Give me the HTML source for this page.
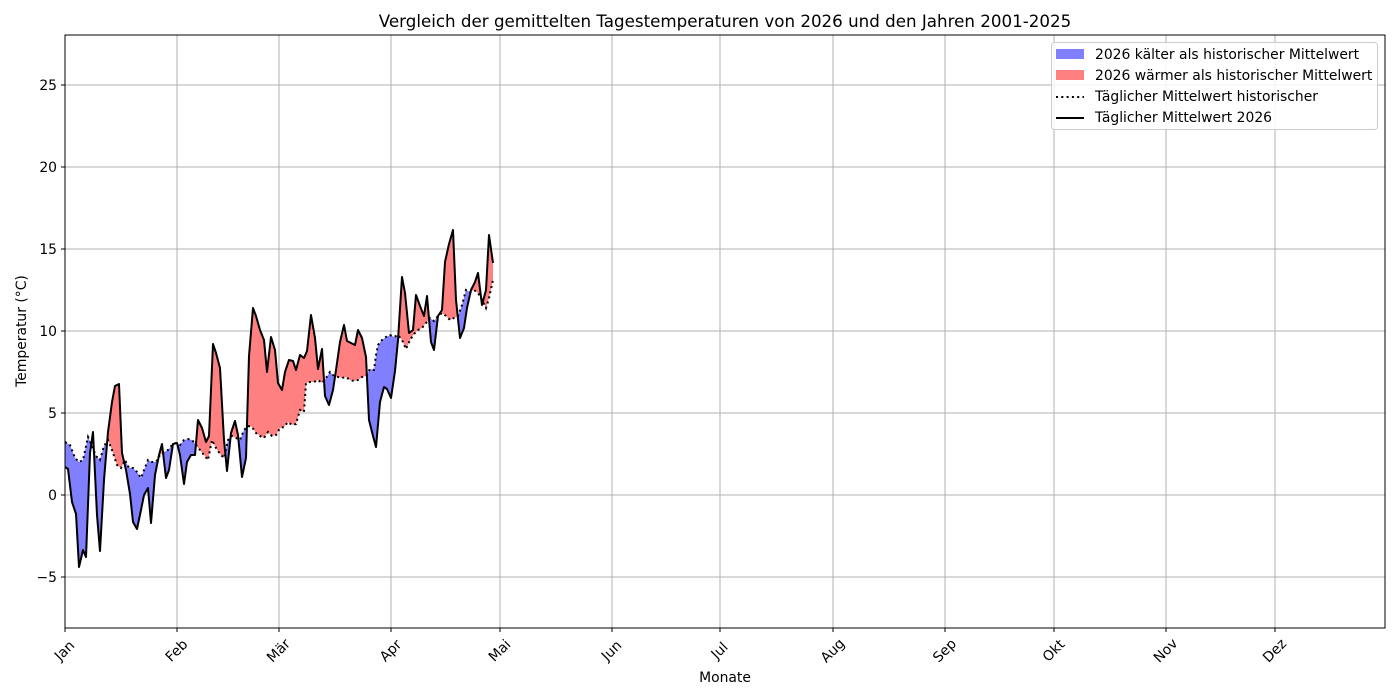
<!DOCTYPE html>
<html><head><meta charset="utf-8"><style>
html,body{margin:0;padding:0;background:#fff;}
svg{display:block;font-family:"DejaVu Sans","Liberation Sans",sans-serif;}
</style></head><body>
<svg width="1400" height="700" viewBox="0 0 1400 700" xmlns="http://www.w3.org/2000/svg">
<defs>
<clipPath id="below26"><polygon points="65,467 68,469 72,502 76,514 79,567 83,550 86,557 90,453 93,432 97,515 100,551 104,480 108,432 112,402 115,386 119,384 122,453 126,470 130,494 133,522 137,529 141,510 144,495 148,488 151,523 155,475 159,455 162,444 166,478 169,470 173,444 177,443 180,455 184,484 187,462 191,455 195,455 198,420 202,428 206,442 209,436 213,344 216,353 220,368 224,440 227,471 231,433 235,421 238,435 242,477 246,458 249,356 253,308 256,316 260,330 264,340 267,372 271,337 275,350 278,383 282,390 285,372 289,360 293,361 296,370 300,355 304,358 307,351 311,315 315,338 318,369 322,349 325,396 329,405 333,390 336,370 340,342 344,325 347,341 351,343 355,345 358,330 362,338 366,357 369,420 373,436 376,447 380,402 384,387 387,389 391,398 395,371 398,340 402,277 405,293 409,333 413,330 416,295 420,306 424,316 427,296 431,342 434,350 438,316 442,310 445,262 449,244 453,230 456,300 460,338 464,328 467,308 471,290 475,282 478,273 482,305 486,290 489,235 493,263 493,700 65,700"/></clipPath>
<clipPath id="above26"><polygon points="65,467 68,469 72,502 76,514 79,567 83,550 86,557 90,453 93,432 97,515 100,551 104,480 108,432 112,402 115,386 119,384 122,453 126,470 130,494 133,522 137,529 141,510 144,495 148,488 151,523 155,475 159,455 162,444 166,478 169,470 173,444 177,443 180,455 184,484 187,462 191,455 195,455 198,420 202,428 206,442 209,436 213,344 216,353 220,368 224,440 227,471 231,433 235,421 238,435 242,477 246,458 249,356 253,308 256,316 260,330 264,340 267,372 271,337 275,350 278,383 282,390 285,372 289,360 293,361 296,370 300,355 304,358 307,351 311,315 315,338 318,369 322,349 325,396 329,405 333,390 336,370 340,342 344,325 347,341 351,343 355,345 358,330 362,338 366,357 369,420 373,436 376,447 380,402 384,387 387,389 391,398 395,371 398,340 402,277 405,293 409,333 413,330 416,295 420,306 424,316 427,296 431,342 434,350 438,316 442,310 445,262 449,244 453,230 456,300 460,338 464,328 467,308 471,290 475,282 478,273 482,305 486,290 489,235 493,263 493,0 65,0"/></clipPath>
</defs>
<text x="725" y="27" font-size="16.7" text-anchor="middle">Vergleich der gemittelten Tagestemperaturen von 2026 und den Jahren 2001-2025</text>
<g stroke="#b0b0b0" stroke-width="1">
<line x1="65" y1="577" x2="1385" y2="577"/><line x1="65" y1="495" x2="1385" y2="495"/><line x1="65" y1="413" x2="1385" y2="413"/><line x1="65" y1="331" x2="1385" y2="331"/><line x1="65" y1="249" x2="1385" y2="249"/><line x1="65" y1="167" x2="1385" y2="167"/><line x1="65" y1="85" x2="1385" y2="85"/>
<line x1="177" y1="35" x2="177" y2="628"/><line x1="279" y1="35" x2="279" y2="628"/><line x1="391" y1="35" x2="391" y2="628"/><line x1="500" y1="35" x2="500" y2="628"/><line x1="612" y1="35" x2="612" y2="628"/><line x1="720" y1="35" x2="720" y2="628"/><line x1="833" y1="35" x2="833" y2="628"/><line x1="945" y1="35" x2="945" y2="628"/><line x1="1054" y1="35" x2="1054" y2="628"/><line x1="1166" y1="35" x2="1166" y2="628"/><line x1="1275" y1="35" x2="1275" y2="628"/>
</g>
<g id="fills">
<polygon clip-path="url(#below26)" fill="#ff8080" points="65,442 70,445 75,458 79,462 83,460 88,437 92,446 96,456 100,460 104,446 108,440 112,450 117,465 121,468 125,460 129,468 133,468 137,472 141,478 144,470 148,460 152,462 156,462 160,455 164,452 168,450 172,445 176,443 180,445 184,440 188,439 192,440 196,445 200,450 204,455 208,460 212,440 216,448 220,454 224,458 228,440 232,436 236,438 240,440 244,430 248,426 252,427 256,433 260,436 264,438 268,432 272,436 276,435 280,428 284,427 288,422 292,425 296,424 300,410 304,412 306,383 310,382 314,382 318,380 322,383 326,378 330,372 334,376 338,377 342,378 346,377 350,380 354,381 358,380 362,377 366,376 370,369 374,370 376,355 378,345 382,340 386,337 390,335 394,337 398,335 402,340 406,349 410,340 414,334 418,330 422,328 426,323 430,318 434,321 438,316 442,313 446,316 450,320 454,318 458,316 462,305 466,290 470,292 474,290 478,293 482,300 486,308 489,298 493,280 493,0 65,0"/>
<polygon clip-path="url(#above26)" fill="#8080ff" points="65,442 70,445 75,458 79,462 83,460 88,437 92,446 96,456 100,460 104,446 108,440 112,450 117,465 121,468 125,460 129,468 133,468 137,472 141,478 144,470 148,460 152,462 156,462 160,455 164,452 168,450 172,445 176,443 180,445 184,440 188,439 192,440 196,445 200,450 204,455 208,460 212,440 216,448 220,454 224,458 228,440 232,436 236,438 240,440 244,430 248,426 252,427 256,433 260,436 264,438 268,432 272,436 276,435 280,428 284,427 288,422 292,425 296,424 300,410 304,412 306,383 310,382 314,382 318,380 322,383 326,378 330,372 334,376 338,377 342,378 346,377 350,380 354,381 358,380 362,377 366,376 370,369 374,370 376,355 378,345 382,340 386,337 390,335 394,337 398,335 402,340 406,349 410,340 414,334 418,330 422,328 426,323 430,318 434,321 438,316 442,313 446,316 450,320 454,318 458,316 462,305 466,290 470,292 474,290 478,293 482,300 486,308 489,298 493,280 493,700 65,700"/>
</g>
<polyline fill="none" stroke="#000" stroke-width="2" stroke-dasharray="2,3.3" points="65,442 70,445 75,458 79,462 83,460 88,437 92,446 96,456 100,460 104,446 108,440 112,450 117,465 121,468 125,460 129,468 133,468 137,472 141,478 144,470 148,460 152,462 156,462 160,455 164,452 168,450 172,445 176,443 180,445 184,440 188,439 192,440 196,445 200,450 204,455 208,460 212,440 216,448 220,454 224,458 228,440 232,436 236,438 240,440 244,430 248,426 252,427 256,433 260,436 264,438 268,432 272,436 276,435 280,428 284,427 288,422 292,425 296,424 300,410 304,412 306,383 310,382 314,382 318,380 322,383 326,378 330,372 334,376 338,377 342,378 346,377 350,380 354,381 358,380 362,377 366,376 370,369 374,370 376,355 378,345 382,340 386,337 390,335 394,337 398,335 402,340 406,349 410,340 414,334 418,330 422,328 426,323 430,318 434,321 438,316 442,313 446,316 450,320 454,318 458,316 462,305 466,290 470,292 474,290 478,293 482,300 486,308 489,298 493,280"/>
<polyline fill="none" stroke="#000" stroke-width="2" stroke-linejoin="round" points="65,467 68,469 72,502 76,514 79,567 83,550 86,557 90,453 93,432 97,515 100,551 104,480 108,432 112,402 115,386 119,384 122,453 126,470 130,494 133,522 137,529 141,510 144,495 148,488 151,523 155,475 159,455 162,444 166,478 169,470 173,444 177,443 180,455 184,484 187,462 191,455 195,455 198,420 202,428 206,442 209,436 213,344 216,353 220,368 224,440 227,471 231,433 235,421 238,435 242,477 246,458 249,356 253,308 256,316 260,330 264,340 267,372 271,337 275,350 278,383 282,390 285,372 289,360 293,361 296,370 300,355 304,358 307,351 311,315 315,338 318,369 322,349 325,396 329,405 333,390 336,370 340,342 344,325 347,341 351,343 355,345 358,330 362,338 366,357 369,420 373,436 376,447 380,402 384,387 387,389 391,398 395,371 398,340 402,277 405,293 409,333 413,330 416,295 420,306 424,316 427,296 431,342 434,350 438,316 442,310 445,262 449,244 453,230 456,300 460,338 464,328 467,308 471,290 475,282 478,273 482,305 486,290 489,235 493,263"/>
<rect x="65" y="35" width="1320" height="593" fill="none" stroke="#000" stroke-width="1"/>
<g stroke="#000" stroke-width="1">
<line x1="61" y1="577" x2="65" y2="577"/><line x1="61" y1="495" x2="65" y2="495"/><line x1="61" y1="413" x2="65" y2="413"/><line x1="61" y1="331" x2="65" y2="331"/><line x1="61" y1="249" x2="65" y2="249"/><line x1="61" y1="167" x2="65" y2="167"/><line x1="61" y1="85" x2="65" y2="85"/>
<line x1="65" y1="628" x2="65" y2="632"/><line x1="177" y1="628" x2="177" y2="632"/><line x1="279" y1="628" x2="279" y2="632"/><line x1="391" y1="628" x2="391" y2="632"/><line x1="500" y1="628" x2="500" y2="632"/><line x1="612" y1="628" x2="612" y2="632"/><line x1="720" y1="628" x2="720" y2="632"/><line x1="833" y1="628" x2="833" y2="632"/><line x1="945" y1="628" x2="945" y2="632"/><line x1="1054" y1="628" x2="1054" y2="632"/><line x1="1166" y1="628" x2="1166" y2="632"/><line x1="1275" y1="628" x2="1275" y2="632"/>
</g>
<g font-size="13.9" text-anchor="end">
<text x="57" y="582">−5</text><text x="57" y="500">0</text><text x="57" y="418">5</text><text x="57" y="336">10</text><text x="57" y="254">15</text><text x="57" y="172">20</text><text x="57" y="90">25</text>
</g>
<g font-size="13.9" text-anchor="middle">
<text transform="translate(65,651) rotate(-45)" dy="4">Jan</text>
<text transform="translate(177,651) rotate(-45)" dy="4">Feb</text>
<text transform="translate(279,651) rotate(-45)" dy="4">Mär</text>
<text transform="translate(391,651) rotate(-45)" dy="4">Apr</text>
<text transform="translate(500,651) rotate(-45)" dy="4">Mai</text>
<text transform="translate(612,651) rotate(-45)" dy="4">Jun</text>
<text transform="translate(720,651) rotate(-45)" dy="4">Jul</text>
<text transform="translate(833,651) rotate(-45)" dy="4">Aug</text>
<text transform="translate(945,651) rotate(-45)" dy="4">Sep</text>
<text transform="translate(1054,651) rotate(-45)" dy="4">Okt</text>
<text transform="translate(1166,651) rotate(-45)" dy="4">Nov</text>
<text transform="translate(1275,651) rotate(-45)" dy="4">Dez</text>
</g>
<text x="725" y="682" font-size="13.9" text-anchor="middle">Monate</text>
<text transform="translate(26,331) rotate(-90)" font-size="13.9" text-anchor="middle">Temperatur (°C)</text>
<g>
<rect x="1051.5" y="42.5" width="326" height="87" rx="3" fill="#fff" fill-opacity="0.85" stroke="#ccc"/>
<rect x="1056" y="49" width="28" height="10" fill="#8080ff"/>
<rect x="1056" y="70" width="28" height="10" fill="#ff8080"/>
<line x1="1056" y1="97" x2="1084" y2="97" stroke="#000" stroke-width="2" stroke-dasharray="2,3.3"/>
<line x1="1056" y1="118" x2="1084" y2="118" stroke="#000" stroke-width="2"/>
<g font-size="13.9">
<text x="1095" y="59">2026 kälter als historischer Mittelwert</text>
<text x="1095" y="80">2026 wärmer als historischer Mittelwert</text>
<text x="1095" y="101">Täglicher Mittelwert historischer</text>
<text x="1095" y="122">Täglicher Mittelwert 2026</text>
</g>
</g>
</svg>
</body></html>
